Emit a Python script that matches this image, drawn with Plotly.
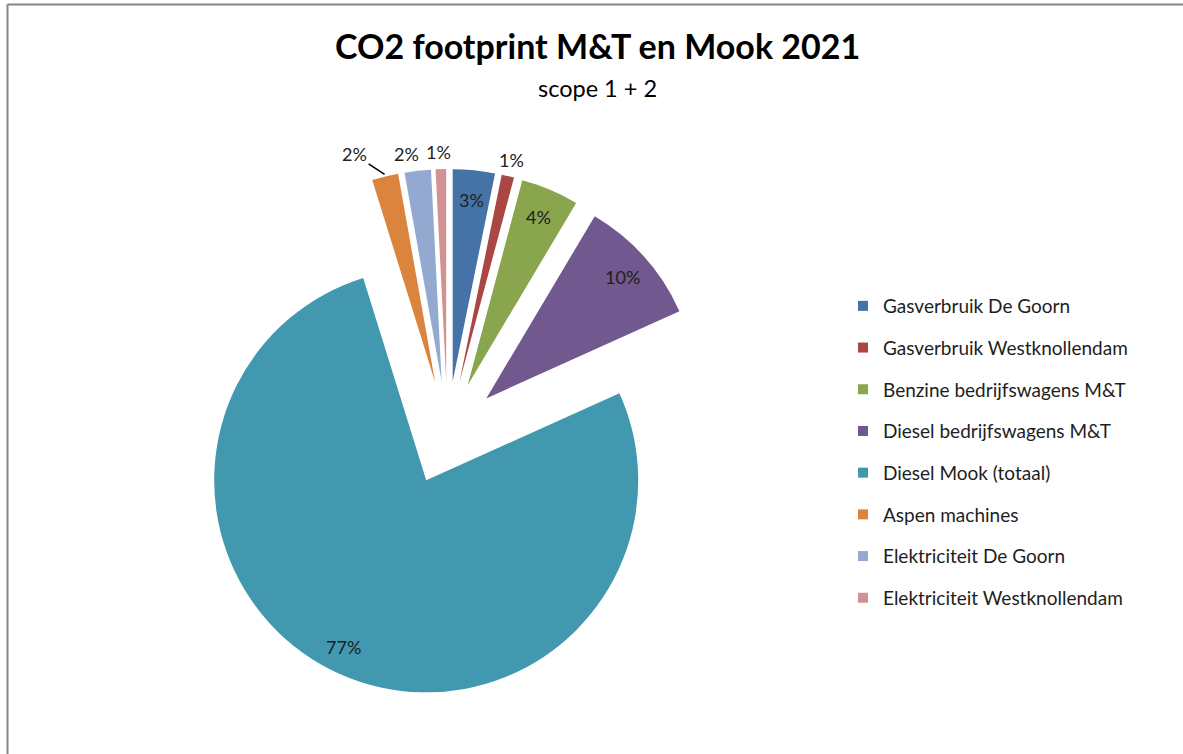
import math
import plotly.graph_objects as go

labels = ["Gasverbruik De Goorn", "Gasverbruik Westknollendam", "Benzine bedrijfswagens M&T",
          "Diesel bedrijfswagens M&T", "Diesel Mook (totaal)", "Aspen machines",
          "Elektriciteit De Goorn", "Elektriciteit Westknollendam"]
values = [3.2, 0.95, 4.4, 9.7, 76.95, 2.0, 2.0, 0.8]
colors = ["#4572A7", "#AA4643", "#89A54E", "#71588F", "#4198AF", "#DB843D", "#93A9CF", "#D19392"]
label_place = ["inside", "outside", "inside", "inside", "inside", "leader", "outside", "outside"]
label_xshift = [0, 0, 0, 0, -8, 0, -9, -2]

W, H = 1183, 754
cx, cy, R, pull = 447.5, 433.0, 212.0, 0.245
half = R * (1 + pull)

fig = go.Figure()
fig.add_trace(go.Pie(
    labels=labels, values=values, sort=False, direction="clockwise", rotation=0,
    marker=dict(colors=colors, line=dict(width=0)),
    pull=[pull] * len(values),
    textinfo="none",
    showlegend=False, hoverinfo="label+percent",
    domain=dict(x=[(cx - half) / W, (cx + half) / W], y=[1 - (cy + half) / H, 1 - (cy - half) / H]),
))

for lab, col in zip(labels, colors):
    fig.add_trace(go.Scatter(x=[None], y=[None], mode="markers", name=lab, legendgroup=lab,
                             marker=dict(symbol="square", size=10, color=col)))

# percentage labels placed along each slice's bisector
annotations = []
total = sum(values)
cum = 0.0
lab_font = dict(family="Lato", size=18, color="#1e1e1e")
for v, place, xs in zip(values, label_place, label_xshift):
    mid = math.radians(360.0 * (cum + v / 2) / total)
    cum += v
    ux, uy = math.sin(mid), -math.cos(mid)
    ax0, ay0 = cx + pull * R * ux, cy + pull * R * uy
    pct = f"{round(100 * v / total):.0f}%"
    if place == "leader":
        px, py = ax0 + 1.01 * R * ux, ay0 + 1.01 * R * uy
        annotations.append(dict(text=pct, x=px / W, y=1 - py / H, xref="paper", yref="paper",
                                showarrow=True, arrowhead=0, arrowwidth=1.5, arrowcolor="#000000",
                                ax=-30, ay=-20, standoff=0, font=lab_font))
    else:
        f = 0.86 if place == "inside" else 1.08
        px, py = ax0 + f * R * ux, ay0 + f * R * uy
        annotations.append(dict(text=pct, x=px / W, y=1 - py / H, xref="paper", yref="paper",
                                showarrow=False, font=lab_font, xanchor="center", yanchor="middle",
                                xshift=xs))

annotations += [
    dict(text="<b>CO2 footprint M&T en Mook 2021</b>", x=597 / W, y=1 - 46 / H, xref="paper", yref="paper",
         showarrow=False, font=dict(family="Lato", size=34, color="#000000"), xanchor="center", yanchor="middle"),
    dict(text="scope 1 + 2", x=597 / W, y=1 - 88 / H, xref="paper", yref="paper",
         showarrow=False, font=dict(family="Lato", size=23.5, color="#000000"), xanchor="center", yanchor="middle"),
]

fig.update_layout(
    width=W, height=H, autosize=False, margin=dict(l=0, r=0, t=0, b=0, pad=0),
    paper_bgcolor="white", plot_bgcolor="white",
    xaxis=dict(visible=False), yaxis=dict(visible=False),
    font=dict(family="Lato", color="#1e1e1e"),
    legend=dict(x=843 / W, y=1 - 287 / H, xanchor="left", yanchor="top",
                font=dict(family="Lato", size=19, color="#1e1e1e"),
                tracegroupgap=14, itemwidth=30, bgcolor="rgba(0,0,0,0)"),
    annotations=annotations,
    shapes=[
        dict(type="line", xref="paper", yref="paper", x0=7.5 / W, x1=1, y0=1 - 4.5 / H, y1=1 - 4.5 / H,
             line=dict(color="#858585", width=2)),
        dict(type="line", xref="paper", yref="paper", x0=7.5 / W, x1=7.5 / W, y0=0, y1=1 - 4.5 / H,
             line=dict(color="#858585", width=2)),
    ],
)

fig.write_html("out.html", config={"responsive": False, "displayModeBar": False},
               post_script="document.body.style.margin='0';document.body.style.padding='0';")
